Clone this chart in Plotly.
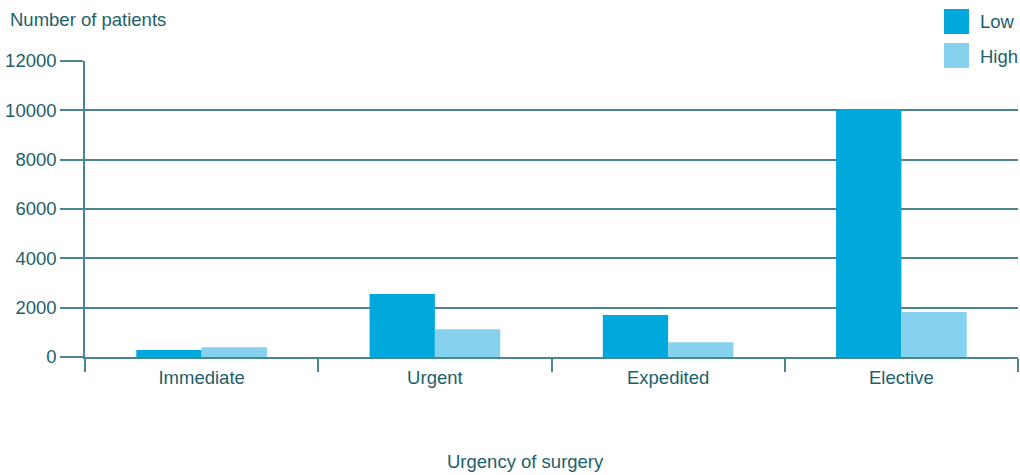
import plotly.graph_objects as go

categories = ["Immediate", "Urgent", "Expedited", "Elective"]
low_values = [280, 2550, 1700, 10030]
high_values = [400, 1130, 600, 1820]
y_ticks = [0, 2000, 4000, 6000, 8000, 10000, 12000]

LINE = "#4a8590"
TEXT = "#1d5f6b"
LOW_C = "#00a8db"
HIGH_C = "#85d1ee"
FONT = "Liberation Sans, Arial, sans-serif"
FS = 18.5

fig = go.Figure()
fig.add_trace(go.Bar(x=categories, y=low_values, name="Low", marker_color=LOW_C,
                     marker_line_width=0, showlegend=False))
fig.add_trace(go.Bar(x=categories, y=high_values, name="High", marker_color=HIGH_C,
                     marker_line_width=0, showlegend=False))

W, H = 1020, 475
L, R, T, B = 85, 2, 61, 118
plot_w = W - L - R
plot_h = H - T - B

fig.update_layout(
    width=W, height=H,
    margin=dict(l=L, r=R, t=T, b=B),
    plot_bgcolor="white", paper_bgcolor="white",
    barmode="group", bargap=0.44, bargroupgap=0,
    font=dict(family=FONT, size=FS, color=TEXT),
    xaxis=dict(showline=True, linecolor=LINE, linewidth=1.5,
               ticks="outside", tickson="boundaries", ticklen=13,
               tickcolor=LINE, tickwidth=1.5, showgrid=False,
               ticklabelstandoff=3,
               tickfont=dict(size=FS, color=TEXT)),
    yaxis=dict(range=[0, 12000], tickvals=y_ticks, tickformat="d", showline=True,
               linecolor=LINE, linewidth=1.5, ticks="outside", ticklen=23,
               tickcolor=LINE, tickwidth=1.5, showgrid=True,
               gridcolor=LINE, gridwidth=1.5, zeroline=False,
               tickfont=dict(size=FS, color=TEXT)),
)


def xp(p):
    return (p - L) / plot_w


def yp(p):
    return (H - B - p) / plot_h


# white backdrop behind legend (covers end of top gridline)
fig.add_shape(type="rect", xref="paper", yref="paper",
              x0=xp(934), x1=xp(1025), y0=yp(72), y1=yp(0),
              fillcolor="white", line_width=0, layer="above")

for name, col, top in [("Low", LOW_C, 9), ("High", HIGH_C, 43)]:
    fig.add_shape(type="rect", xref="paper", yref="paper",
                  x0=xp(944), x1=xp(969), y0=yp(top + 25), y1=yp(top),
                  fillcolor=col, line_width=0, layer="above")
    fig.add_annotation(xref="paper", yref="paper", x=xp(978), y=yp(top + 13),
                       text=name, showarrow=False, xanchor="left", yanchor="middle",
                       font=dict(size=FS, color=TEXT))

fig.add_annotation(xref="paper", yref="paper", x=xp(8), y=yp(19),
                   text="Number of patients", showarrow=False,
                   xanchor="left", yanchor="middle", font=dict(size=FS, color=TEXT))
fig.add_annotation(xref="paper", yref="paper", x=xp(525), y=yp(461),
                   text="Urgency of surgery", showarrow=False,
                   xanchor="center", yanchor="middle", font=dict(size=FS, color=TEXT))

fig.write_html("out.html", config={"displayModeBar": False},
               post_script="document.body.style.margin='0';document.body.style.overflow='hidden';")
